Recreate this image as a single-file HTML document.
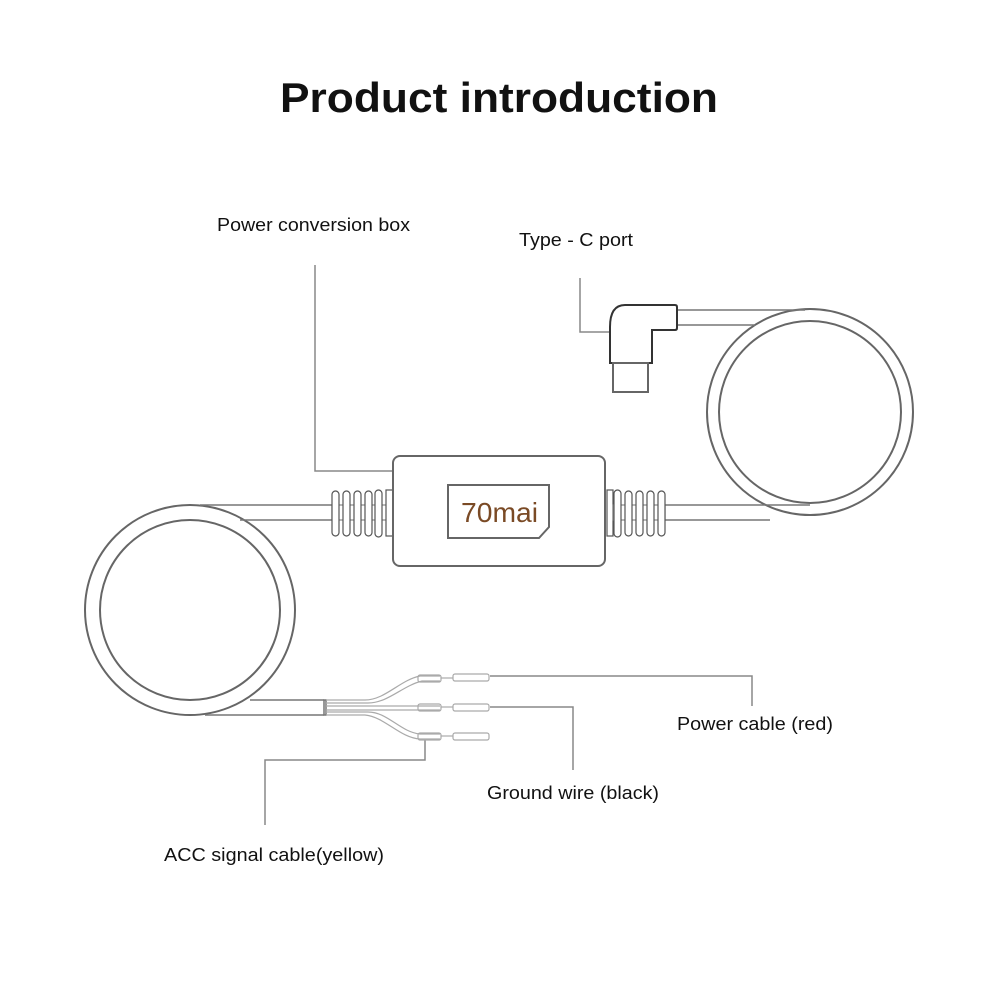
<!DOCTYPE html>
<html><head><style>
body{margin:0;background:#fff;}
svg{display:block;}
text{font-family:"Liberation Sans",sans-serif;fill:#111;}
</style></head><body>
<svg width="1000" height="1000" viewBox="0 0 1000 1000">
<text x="280" y="112" font-size="42" font-weight="bold" textLength="438" lengthAdjust="spacingAndGlyphs">Product introduction</text>
<text x="217" y="231" font-size="18" textLength="193" lengthAdjust="spacingAndGlyphs">Power conversion box</text>
<text x="519" y="246" font-size="18" textLength="114" lengthAdjust="spacingAndGlyphs">Type - C port</text>
<text x="677" y="730" font-size="18" textLength="156" lengthAdjust="spacingAndGlyphs">Power cable (red)</text>
<text x="487" y="799" font-size="18" textLength="172" lengthAdjust="spacingAndGlyphs">Ground wire (black)</text>
<text x="164" y="861" font-size="18" textLength="220" lengthAdjust="spacingAndGlyphs">ACC signal cable(yellow)</text>

<g fill="none" stroke="#888" stroke-width="1.5">
<polyline points="315,265 315,471 393,471"/>
<polyline points="580,278 580,332 610,332"/>
<polyline points="490,676 752,676 752,706"/>
<polyline points="490,707 573,707 573,770"/>
<polyline points="425,740 425,760 265,760 265,825"/>
</g>
<g fill="none" stroke="#666" stroke-width="2">
<circle cx="190" cy="610" r="105"/>
<circle cx="190" cy="610" r="90"/>
<circle cx="810" cy="412" r="103"/>
<circle cx="810" cy="412" r="91"/>
</g>
<g fill="none" stroke="#777" stroke-width="1.5">
<line x1="200" y1="505" x2="332" y2="505"/>
<line x1="240" y1="520" x2="332" y2="520"/>
<line x1="665" y1="505" x2="810" y2="505"/>
<line x1="665" y1="520" x2="770" y2="520"/>
<line x1="677" y1="310" x2="805" y2="310"/>
<line x1="677" y1="325" x2="755" y2="325"/>
<line x1="250" y1="700" x2="324" y2="700"/>
<line x1="205" y1="715" x2="324" y2="715"/>
<rect x="324" y="700" width="2" height="15"/>
</g>
<g fill="none" stroke="#aaa" stroke-width="1.2">
<path d="M326,700 L365,700 C385,700 400,680 420,676 L440,676"/>
<path d="M326,703 L368,703 C388,703 402,686 422,681 L440,681"/>
<path d="M326,706 L440,706"/><path d="M326,710 L440,710"/>
<path d="M326,712 L368,712 C388,712 400,732 420,734 L440,734"/>
<path d="M326,715 L365,715 C385,717 400,738 420,739 L440,739"/>
<rect x="418" y="675" width="23" height="7" rx="2"/>
<rect x="418" y="704" width="23" height="7" rx="2"/>
<rect x="418" y="733" width="23" height="7" rx="2"/>
<line x1="441" y1="678" x2="453" y2="678"/><line x1="441" y1="707" x2="453" y2="707"/><line x1="441" y1="736" x2="453" y2="736"/>
<rect x="453" y="674" width="36" height="7" rx="2"/>
<rect x="453" y="704" width="36" height="7" rx="2"/>
<rect x="453" y="733" width="36" height="7" rx="2"/>
</g>
<g fill="#fff" stroke="#555" stroke-width="1.2">
<rect x="332" y="505" width="55" height="15" stroke="#888"/>
<rect x="332" y="491" width="7" height="45" rx="3.5"/>
<rect x="343" y="491" width="7" height="45" rx="3.5"/>
<rect x="354" y="491" width="7" height="45" rx="3.5"/>
<rect x="365" y="491" width="7" height="45" rx="3.5"/>
<rect x="375" y="490" width="7" height="47" rx="3.5"/>
<rect x="386" y="490" width="7" height="46"/>
<rect x="607" y="490" width="6" height="46"/>
<rect x="613" y="505" width="52" height="15" stroke="#888"/>
<rect x="614" y="490" width="7" height="47" rx="3.5"/>
<rect x="625" y="491" width="7" height="45" rx="3.5"/>
<rect x="636" y="491" width="7" height="45" rx="3.5"/>
<rect x="647" y="491" width="7" height="45" rx="3.5"/>
<rect x="658" y="491" width="7" height="45" rx="3.5"/>
</g>
<rect x="393" y="456" width="212" height="110" rx="7" fill="#fff" stroke="#666" stroke-width="2"/>
<path d="M448,485 L549,485 L549,527 L539,538 L448,538 Z" fill="#fff" stroke="#666" stroke-width="2"/>
<text x="461" y="522" font-size="28" style="fill:#7a4a25" textLength="77" lengthAdjust="spacingAndGlyphs">70mai</text>
<path d="M610,327 Q610,305 625,305 L675,305 Q677,305 677,307 L677,328 Q677,330 675,330 L652,330 L652,363 L610,363 Z" fill="#fff" stroke="#333" stroke-width="2"/>
<rect x="613" y="363" width="35" height="29" fill="#fff" stroke="#666" stroke-width="2"/>
</svg>
</body></html>
